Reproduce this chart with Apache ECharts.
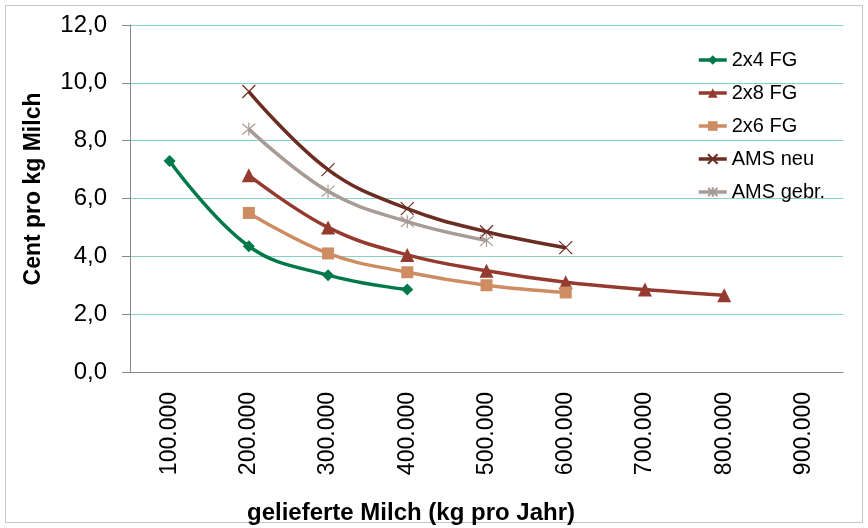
<!DOCTYPE html>
<html>
<head>
<meta charset="utf-8">
<script src="https://cdn.jsdelivr.net/npm/echarts@6/dist/echarts.min.js"></script>
<style>
    html, body {margin: 0; padding: 0; background: #fff;}
    #chart {width: 868px; height: 528px;}
</style>
</head>
<body>
<div id="chart"></div>
<script>
const categories = ['100.000', '200.000', '300.000', '400.000', '500.000', '600.000', '700.000', '800.000', '900.000'];
const fg2x4 = [7.3, 4.35, 3.35, 2.85, null, null, null, null, null];
const fg2x8 = [null, 6.8, 5.0, 4.05, 3.5, 3.1, 2.85, 2.65, null];
const fg2x6 = [null, 5.5, 4.1, 3.45, 3.0, 2.75, null, null, null];
const amsNeu = [null, 9.7, 7.0, 5.65, 4.85, 4.3, null, null, null];
const amsGebr = [null, 8.4, 6.25, 5.2, 4.55, null, null, null, null];
const yTicks = [0, 2, 4, 6, 8, 10, 12];

const font = '"Liberation Sans", Arial, sans-serif';
const cross = 'path://M0,0L10,10M10,0L0,10';
const star = 'path://M0,0L10,10M10,0L0,10M5,-1L5,11';

const mkSeries = (name, data, color, symbol, size, stroke) => ({
    name: name,
    type: 'line',
    data: data,
    smooth: 0.4,
    symbol: symbol,
    symbolSize: size,
    showSymbol: true,
    lineStyle: {color: color, width: 3.5},
    itemStyle: stroke ? {color: color, borderColor: color, borderWidth: 1.2} : {color: color},
    emphasis: {disabled: true}
});

const chart = echarts.init(document.getElementById('chart'));
chart.setOption({
    animation: false,
    textStyle: {fontFamily: font},
    grid: {left: 130, right: 25, top: 25, bottom: 156, outerBoundsMode: 'none'},
    legend: {
        orient: 'vertical',
        left: 692,
        top: 45,
        itemWidth: 28,
        itemHeight: 12,
        itemGap: 13,
        lineStyle: {width: 3.5},
        textStyle: {fontFamily: font, fontSize: 20, color: '#000'},
        data: ['2x4 FG', '2x8 FG', '2x6 FG', 'AMS neu', 'AMS gebr.']
    },
    xAxis: {
        type: 'category',
        data: categories,
        boundaryGap: true,
        axisLine: {lineStyle: {color: '#888'}},
        axisTick: {length: 7, lineStyle: {color: '#888'}},
        axisLabel: {rotate: 90, margin: 20, fontSize: 23, color: '#000', fontFamily: font},
        splitLine: {show: false}
    },
    yAxis: {
        type: 'value',
        min: yTicks[0],
        max: yTicks[yTicks.length - 1],
        interval: 2,
        axisLine: {show: true, lineStyle: {color: '#888'}},
        axisTick: {show: true, length: 8, lineStyle: {color: '#888'}},
        axisLabel: {
            margin: 23, fontSize: 24, color: '#000', fontFamily: font,
            formatter: v => v.toFixed(1).replace('.', ',')
        },
        splitLine: {lineStyle: {color: '#86d3c3', width: 1}}
    },
    graphic: [
        {
            type: 'rect', silent: true,
            shape: {x: 5.5, y: 5.5, width: 857, height: 517},
            style: {fill: 'none', stroke: '#c4c4c4', lineWidth: 1}
        },
        {
            type: 'text', silent: true, x: 34, y: 189, rotation: Math.PI / 2,
            style: {
                text: 'Cent pro kg Milch', font: 'bold 23px ' + font, fill: '#000',
                textAlign: 'center', textVerticalAlign: 'middle'
            }
        },
        {
            type: 'text', silent: true, x: 411, y: 513,
            style: {
                text: 'gelieferte Milch (kg pro Jahr)', font: 'bold 24px ' + font, fill: '#000',
                textAlign: 'center', textVerticalAlign: 'middle'
            }
        }
    ],
    series: [
        mkSeries('2x4 FG', fg2x4, '#00794a', 'diamond', 12, false),
        mkSeries('2x8 FG', fg2x8, '#953a2e', 'triangle', 14, false),
        mkSeries('2x6 FG', fg2x6, '#cd8c62', 'rect', 12, false),
        mkSeries('AMS neu', amsNeu, '#6b2c22', cross, 13, true),
        mkSeries('AMS gebr.', amsGebr, '#a89a94', star, 13, true)
    ]
});
</script>
</body>
</html>
